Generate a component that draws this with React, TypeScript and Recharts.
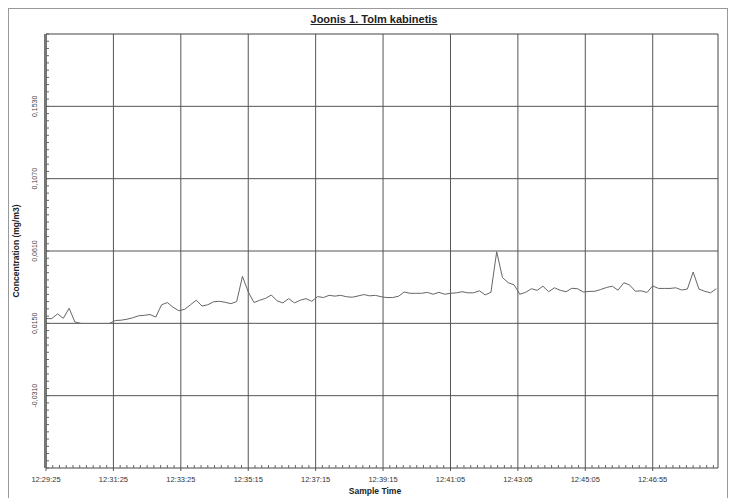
import React from "react";
import {
	LineChart,
	Line,
	XAxis,
	YAxis,
	CartesianGrid,
	ReferenceLine,
} from "recharts";

// samples every 10 s starting 12:29:25, concentration mg/m3
const values: (number | null)[] = [
	0.018, 0.018, 0.021, 0.0182, 0.0246, 0.0158, 0.015, null, null, null,
	null, 0.015, 0.0168, 0.017, 0.0176, 0.0185, 0.0198, 0.0201, 0.0206, 0.019,
	0.0268, 0.0282, 0.0252, 0.023, 0.0239, 0.0268, 0.0297, 0.026, 0.0268, 0.0287,
	0.029, 0.0284, 0.0275, 0.0288, 0.0449, 0.035, 0.0282, 0.0297, 0.0309, 0.033,
	0.0293, 0.028, 0.0307, 0.028, 0.0297, 0.0307, 0.029, 0.032, 0.0314, 0.0328,
	0.0323, 0.0328, 0.0319, 0.0316, 0.0324, 0.0333, 0.0325, 0.0328, 0.0319, 0.0314,
	0.0314, 0.0322, 0.0349, 0.0341, 0.0341, 0.0341, 0.0347, 0.0335, 0.0347, 0.0335,
	0.0341, 0.0344, 0.0351, 0.0344, 0.0344, 0.0357, 0.0331, 0.0347, 0.0605, 0.0441,
	0.0408, 0.0395, 0.0335, 0.0347, 0.037, 0.036, 0.0386, 0.0351, 0.0376, 0.036,
	0.0351, 0.0373, 0.037, 0.0349, 0.0353, 0.0354, 0.0365, 0.0378, 0.0386, 0.0361,
	0.0408, 0.0394, 0.0354, 0.0357, 0.0346, 0.0388, 0.0372, 0.0372, 0.0372, 0.0376,
	0.0362, 0.0368, 0.0476, 0.0368, 0.0354, 0.0344, 0.037,
];

const xLabels = [
	"12:29:25",
	"12:31:25",
	"12:33:25",
	"12:35:15",
	"12:37:15",
	"12:39:15",
	"12:41:05",
	"12:43:05",
	"12:45:05",
	"12:46:55",
];

const yMajor = [-0.031, 0.015, 0.061, 0.107, 0.153];
const yLabels = ["-0,0310", "0,0150", "0,0610", "0,1070", "0,1530"];

const SAMPLE_SEC = 10;
const X_STEP = 350 / 3;
const X_MAX = 1163;
const Y_MIN = -0.077;
const Y_MAX = 0.199;
const Y_STEP = 0.046;

const data = values.map((v, i) => ({ t: i * SAMPLE_SEC, v }));
const xMajor = xLabels.map((_, i) => i * X_STEP);
const xMinor = Array.from({ length: 100 }, (_, k) => (k * X_STEP) / 10);
const yMinor = Array.from({ length: 61 }, (_, k) => Y_MIN + (k * Y_STEP) / 10);

const font = "'Liberation Sans', Arial, sans-serif";

const findIdx = (arr: number[], v: number) =>
	arr.findIndex((a) => Math.abs(a - v) < 1e-6);

const XTick = (props: any) => {
	const { x, y, payload } = props;
	const i = findIdx(xMajor, payload.value);
	if (i < 0) {
		return <line x1={x} x2={x} y1={y} y2={y - 3} stroke="#666" />;
	}
	return (
		<g>
			<line x1={x} x2={x} y1={y} y2={y + 3} stroke="#555" />
			<text
				x={x}
				y={y + 14}
				textAnchor="middle"
				fontSize={7.5}
				fontFamily={font}
				fill="#333"
			>
				{xLabels[i]}
			</text>
		</g>
	);
};

const YTick = (props: any) => {
	const { x, y, payload } = props;
	const i = findIdx(yMajor, payload.value);
	if (i < 0) {
		return <line x1={x} x2={x + 3} y1={y} y2={y} stroke="#666" />;
	}
	return (
		<g>
			<line x1={x} x2={x + 3} y1={y} y2={y} stroke="#666" />
			<text
				x={x - 9}
				y={y}
				transform={`rotate(-90, ${x - 9}, ${y})`}
				textAnchor="middle"
				fontSize={7}
				fontFamily={font}
				fill="#444"
			>
				{yLabels[i]}
			</text>
		</g>
	);
};

const App = () => {
	return (
		<div
			style={{
				position: "absolute",
				left: 8,
				top: 8,
				width: 720,
				height: 490,
				overflow: "hidden",
				fontFamily: font,
			}}
		>
			<div
				style={{
					position: "absolute",
					left: 0,
					top: 0,
					width: 720,
					height: 520,
					boxSizing: "border-box",
					border: "1px solid #999",
				}}
			/>
			<div
				style={{
					position: "absolute",
					left: 0,
					width: 732,
					top: 4,
					textAlign: "center",
					fontSize: 11,
					lineHeight: "14px",
					fontWeight: "bold",
					textDecoration: "underline",
					color: "#222",
				}}
			>
				Joonis 1. Tolm kabinetis
			</div>
			<div
				style={{
					position: "absolute",
					left: 36,
					top: 26,
					width: 1,
					height: 434,
					background: "#777",
				}}
			/>
			<LineChart
				width={720}
				height={490}
				data={data}
				margin={{ top: 26, right: 10, bottom: 10, left: 8 }}
			>
				<CartesianGrid
					stroke="#555"
					horizontalValues={yMajor}
					verticalValues={xMajor}
				/>
				<XAxis
					dataKey="t"
					type="number"
					domain={[0, X_MAX]}
					ticks={xMinor}
					interval={0}
					height={20}
					tickSize={0}
					tickMargin={0}
					tickLine={false}
					axisLine={{ stroke: "#444" }}
					tick={XTick}
					allowDataOverflow
				/>
				<YAxis
					type="number"
					domain={[Y_MIN, Y_MAX]}
					ticks={yMinor}
					interval={0}
					width={30}
					tickSize={0}
					tickMargin={0}
					tickLine={false}
					axisLine={{ stroke: "#444" }}
					tick={YTick}
					allowDataOverflow
				/>
				<ReferenceLine y={Y_MAX} stroke="#444" />
				<ReferenceLine x={X_MAX} stroke="#444" />
				<Line
					dataKey="v"
					type="linear"
					stroke="#666"
					strokeWidth={1}
					dot={false}
					connectNulls={false}
					isAnimationActive={false}
				/>
			</LineChart>
			<div
				style={{
					position: "absolute",
					left: 0,
					width: 734,
					top: 478,
					textAlign: "center",
					fontSize: 8.5,
					lineHeight: "10px",
					fontWeight: "bold",
					color: "#222",
				}}
			>
				Sample Time
			</div>
			<div
				style={{
					position: "absolute",
					left: 7.5,
					top: 243,
					transform: "translate(-50%, -50%) rotate(-90deg)",
					whiteSpace: "nowrap",
					fontSize: 8.5,
					fontWeight: "bold",
					color: "#222",
				}}
			>
				Concentration (mg/m3)
			</div>
		</div>
	);
};

export default App;
